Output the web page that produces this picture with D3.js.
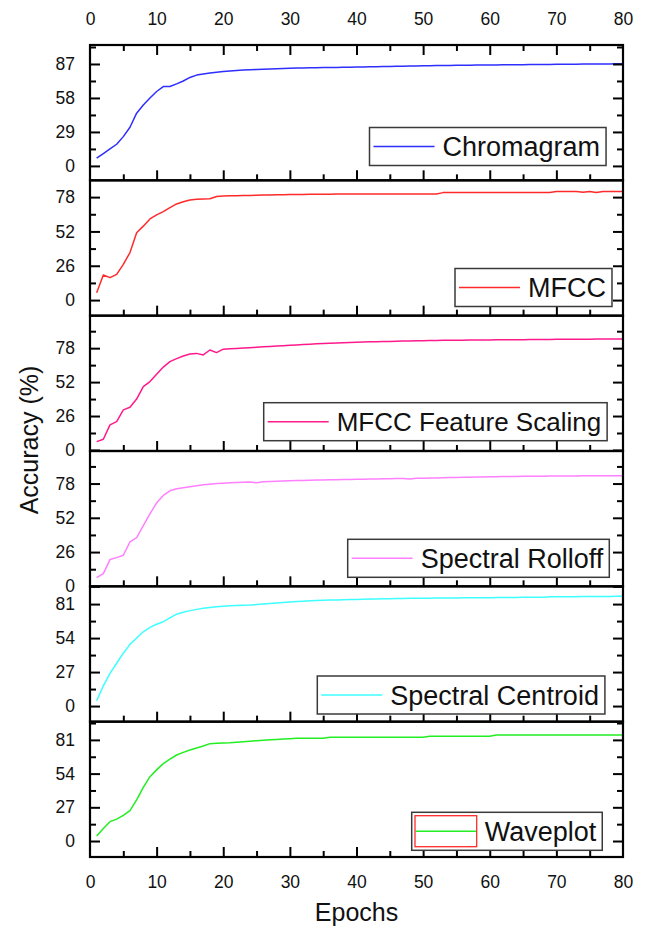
<!DOCTYPE html>
<html><head><meta charset="utf-8">
<script src="https://cdn.jsdelivr.net/npm/d3@7"></script>
<style>
html,body{margin:0;padding:0;background:#fff;}
svg{display:block;font-family:"Liberation Sans",Arial,sans-serif;}
</style></head>
<body><svg id="chart" width="648" height="933"></svg>
<script>
// ---------------- data ----------------
const seriesNames = ["Chromagram","MFCC","MFCC Feature Scaling","Spectral Rolloff","Spectral Centroid","Waveplot"];
const epochs = d3.range(1, 81);
const chromagram = [
6.6,10.5,14.5,18.5,25,33,45,52,58,63.5,
67.7,67.8,70,72.5,75.5,77.5,78.5,79.3,80,80.5,
81,81.4,81.8,82,82.3,82.6,82.8,83,83.2,83.4,
83.5,83.6,83.7,83.8,83.9,84,84.1,84.2,84.3,84.4,
84.5,84.6,84.7,84.8,84.9,85,85.1,85.2,85.3,85.4,
85.5,85.6,85.7,85.8,85.9,86,86,86.1,86.1,86.2,
86.2,86.3,86.3,86.4,86.4,86.5,86.5,86.6,86.6,86.7,
86.7,86.8,86.8,86.9,86.9,87,87,87,87.1,87.1];
const mfcc = [
5.5,19,17,19.5,27,36,51,56,61.5,64.5,
67,70,72.8,74.5,75.8,76.3,76.6,76.8,78.5,78.8,
79,79.1,79.2,79.3,79.4,79.5,79.6,79.7,79.8,79.9,
80,80,80.1,80.1,80.2,80.2,80.3,80.3,80.4,80.4,
80.4,80.4,80.4,80.4,80.4,80.4,80.4,80.4,80.4,80.4,
80.4,80.4,81.4,81.4,81.4,81.4,81.4,81.4,81.4,81.4,
81.4,81.4,81.4,81.4,81.4,81.4,81.4,81.4,81.4,82.2,
82.2,82.2,82.2,81.6,82.2,81.5,82.2,82.2,82.2,82.2];
const mfccFeatureScaling = [
6.4,8.2,19.2,21.7,30.7,32.7,39,48.5,52.4,58,
63.5,67.7,70,72,73.5,74,72.8,76.6,74.6,77.2,
77.5,77.8,78.1,78.4,78.7,79,79.3,79.6,79.9,80.2,
80.5,80.8,81,81.3,81.5,81.8,82,82.2,82.4,82.6,
82.8,82.9,83,83.1,83.2,83.3,83.4,83.5,83.6,83.7,
83.8,83.9,84,84,84.1,84.1,84.2,84.2,84.3,84.3,
84.4,84.4,84.5,84.5,84.5,84.6,84.6,84.7,84.7,84.8,
84.8,84.8,84.9,84.9,84.9,85,85,85,85.1,85.1];
const spectralRolloff = [
6.6,9.6,20.3,21.8,23.6,33.7,37,46,55,63.4,
69,72.5,74,74.8,75.5,76.3,77,77.5,78,78.3,
78.6,78.8,79,79.2,78.6,79.4,79.6,79.8,80,80.2,
80.3,80.4,80.5,80.6,80.7,80.8,80.9,81,81.1,81.2,
81.3,81.4,81.5,81.6,81.7,81.8,81.9,81.4,82,82.1,
82.2,82.3,82.4,82.5,82.6,82.7,82.8,82.9,83,83.1,
83.2,83.3,83.4,83.4,83.5,83.5,83.6,83.6,83.7,83.7,
83.8,83.8,83.8,83.9,83.9,83.9,84,84,84,84];
const spectralCentroid = [
4.2,16,26,34,42,49,54,59,62.5,65,
67,70,73,74.5,75.8,76.8,77.6,78.3,78.9,79.3,
79.6,79.8,80,80.2,80.6,81,81.4,81.8,82.2,82.6,
83,83.3,83.6,83.8,84,84.2,84.3,84.5,84.6,84.7,
84.8,85,85.1,85.2,85.3,85.4,85.5,85.6,85.6,85.7,
85.7,85.8,85.8,85.9,85.9,86,86,86,86.1,86.1,
86.2,86.2,86.3,86.3,86.4,86.4,86.5,86.5,86.8,86.8,
86.8,86.9,86.9,87,87,87,87.1,87.1,87.2,87.2];
const waveplot = [
4,10,15.5,17.5,20.5,24.3,33,43,51.5,57,
62,65.5,68.9,71,72.9,74.5,76.1,78,78.4,78.6,
78.8,79.2,79.6,80,80.4,80.8,81.1,81.4,81.7,82,
82.3,82.3,82.3,82.3,82.3,83.1,83.1,83.1,83.1,83.1,
83.1,83.1,83.1,83.1,83.1,83.1,83.1,83.1,83.1,83.1,
83.9,83.9,83.9,83.9,83.9,83.9,83.9,83.9,83.9,83.9,
84.9,84.9,84.9,84.9,84.9,84.9,84.9,84.9,84.9,84.9,
84.9,84.9,84.9,84.9,84.9,84.9,84.9,84.9,84.9,84.9];
const allSeries = [chromagram, mfcc, mfccFeatureScaling, spectralRolloff, spectralCentroid, waveplot];
const xTicks = [0,10,20,30,40,50,60,70,80];
const xMinorTicks = [5,15,25,35,45,55,65,75];
const yTicks = [[0,29,58,87],[0,26,52,78],[0,26,52,78],[0,26,52,78],[0,27,54,81],[0,27,54,81]];
const yMinorTicks = [[14.5,43.5,72.5,101.5],[13,39,65,91],[13,39,65,91],[13,39,65,91],[13.5,40.5,67.5,94.5],[13.5,40.5,67.5,94.5]];
const yDomains = [[-12.3,103.2],[-11.8,90.7],[-0.8,102.9],[0,102.7],[-12.4,95.1],[-12.8,95.6]];
const xAxisTitle = "Epochs";
const yAxisTitle = "Accuracy (%)";

// ---------------- layout / style ----------------
const colors = ["#2e2eff","#ff2a2a","#ff1a8c","#ff80ff","#3dffff","#22ee22"];
const legendPos = [[369.5,127.5],[455,268.5],[263.7,402.7],[347.7,539.3],[317.3,676],[411.7,812.3]];
const legendFont = [27,27,26,27,27,27];
const L = 90, R = 623, TOP = 45, BOTTOM = 857;
const PH = (BOTTOM - TOP) / 6;

const svg = d3.select("#chart");
svg.append("rect").attr("width",648).attr("height",933).attr("fill","#fff");

const x = d3.scaleLinear().domain([0,80]).range([L,R]);

function styleAxis(g){
  g.select(".domain").remove();
  g.selectAll(".tick line").attr("stroke","#000").attr("stroke-width",2);
  g.selectAll(".tick text").attr("font-size",17.5).attr("fill","#111")
    .attr("font-family",'"Liberation Sans",Arial,sans-serif');
}

allSeries.forEach((vals, i) => {
  const top = TOP + i*PH, bot = top + PH;
  const y = d3.scaleLinear().domain(yDomains[i]).range([bot, top]);
  const g = svg.append("g");

  const clipId = "clip"+i;
  svg.append("clipPath").attr("id",clipId).append("rect")
    .attr("x",L).attr("y",top).attr("width",R-L).attr("height",PH);

  const line = d3.line().x((d,k)=>x(epochs[k])).y(d=>y(d));
  g.append("path").datum(vals).attr("d",line)
    .attr("fill","none").attr("stroke",colors[i]).attr("stroke-width",1.5)
    .attr("stroke-linejoin","round").attr("clip-path",`url(#${clipId})`);

  // left axis
  g.append("g").attr("transform",`translate(${L},0)`)
    .call(d3.axisLeft(y).tickValues(yTicks[i]).tickSize(-10).tickPadding(15).tickFormat(d3.format("d")))
    .call(styleAxis);
  g.append("g").attr("transform",`translate(${L},0)`)
    .call(d3.axisLeft(y).tickValues(yMinorTicks[i].filter(v=>v<yDomains[i][1]-1)).tickSize(-6).tickFormat(""))
    .call(styleAxis);
  // right axis
  g.append("g").attr("transform",`translate(${R},0)`)
    .call(d3.axisRight(y).tickValues(yTicks[i]).tickSize(-10).tickFormat(""))
    .call(styleAxis);
  g.append("g").attr("transform",`translate(${R},0)`)
    .call(d3.axisRight(y).tickValues(yMinorTicks[i].filter(v=>v<yDomains[i][1]-1)).tickSize(-6).tickFormat(""))
    .call(styleAxis);
  // bottom ticks
  const last = i === allSeries.length-1;
  g.append("g").attr("transform",`translate(0,${bot})`)
    .call(d3.axisBottom(x).tickValues(xTicks.filter(v=>v>0&&v<80)).tickSize(-10).tickPadding(19)
      .tickFormat(last ? d3.format("d") : ""))
    .call(styleAxis);
  g.append("g").attr("transform",`translate(0,${bot})`)
    .call(d3.axisBottom(x).tickValues(xMinorTicks).tickSize(-6).tickFormat(""))
    .call(styleAxis);
  if (last) {
    g.append("g").attr("transform",`translate(0,${bot})`)
      .call(d3.axisBottom(x).tickValues([0,80]).tickSize(0).tickPadding(19).tickFormat(d3.format("d")))
      .call(styleAxis);
  }
  if (i === 0) {
    g.append("g").attr("transform",`translate(0,${top})`)
      .call(d3.axisTop(x).tickValues(xTicks.filter(v=>v>0&&v<80)).tickSize(-10).tickPadding(20).tickFormat(d3.format("d")))
      .call(styleAxis);
    g.append("g").attr("transform",`translate(0,${top})`)
      .call(d3.axisTop(x).tickValues(xMinorTicks).tickSize(-6).tickFormat(""))
      .call(styleAxis);
    g.append("g").attr("transform",`translate(0,${top})`)
      .call(d3.axisTop(x).tickValues([0,80]).tickSize(0).tickPadding(20).tickFormat(d3.format("d")))
      .call(styleAxis);
  }
  // frame
  g.append("rect").attr("x",L).attr("y",top).attr("width",R-L).attr("height",PH)
    .attr("fill","none").attr("stroke","#000").attr("stroke-width",2.2);

  // legend
  const [lx, ly] = legendPos[i];
  const lg = svg.append("g").attr("transform",`translate(${lx},${ly})`);
  const box = lg.append("rect").attr("x",0).attr("y",0).attr("height",38)
    .attr("fill","#fff").attr("stroke","#3a3a3a").attr("stroke-width",1.5);
  lg.append("line").attr("x1",4).attr("x2",65).attr("y1",19).attr("y2",19)
    .attr("stroke",colors[i]).attr("stroke-width",1.6);
  if (i === 5) {
    lg.append("rect").attr("x",3.3).attr("y",3.4).attr("width",61.7).attr("height",31)
      .attr("fill","none").attr("stroke","#ff2a2a").attr("stroke-width",1.3);
  }
  const t = lg.append("text").attr("x",73).attr("y",28.5).attr("font-size",legendFont[i])
    .attr("fill","#111").text(seriesNames[i]);
  const tw = t.node().getComputedTextLength();
  box.attr("width", 73 + tw + 6);
});

// axis titles
svg.append("text").attr("x",(L+R)/2).attr("y",921).attr("text-anchor","middle")
  .attr("font-size",25).attr("fill","#111").text(xAxisTitle);
svg.append("text").attr("transform","translate(38,440) rotate(-90)").attr("text-anchor","middle")
  .attr("font-size",25).attr("fill","#111").text(yAxisTitle);
</script>
</body></html>
